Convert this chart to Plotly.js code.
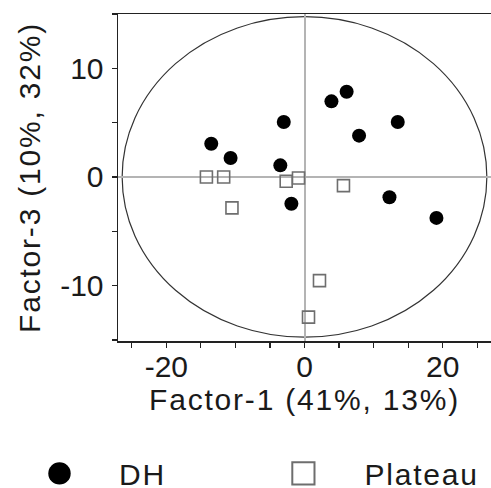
<!DOCTYPE html>
<html>
<head>
<meta charset="utf-8">
<script src="https://cdn.plot.ly/plotly-3.0.1.min.js"></script>
<style>
html,body{margin:0;padding:0;background:#fff;}
#chart{width:491px;height:488px;}
.g-xtitle text, .g-ytitle text, .infolayer text { letter-spacing: 1.8px !important; }
</style>
</head>
<body>
<div id="chart"></div>
<script>
// DH group (Factor-1, Factor-3)
var dhX = [-13.5, -10.7, -3.0, -3.5, 3.9, 6.1, 7.9, 13.5, -1.9, 12.3, 19.1];
var dhY = [3.06, 1.75, 5.06, 1.07, 6.96, 7.85, 3.8, 5.06, -2.46, -1.87, -3.77];
// Plateau group
var plX = [-14.2, -11.7, -10.5, -2.65, -0.87, 5.64, 2.17, 0.58];
var plY = [0.0, 0.0, -2.85, -0.4, -0.1, -0.8, -9.54, -12.9];
// confidence ellipse (semi-axes)
var ellipseRx = 26.4;
var ellipseRy = 14.75;
var tickVals = [-25, -20, -15, -10, -5, 0, 5, 10, 15, 20, 25];
var xTickText = ['', '-20', '', '', '', '0', '', '', '', '20', ''];
var yTickVals = [-15, -10, -5, 0, 5, 10, 15];
var yTickText = ['', '-10', '', '0', '', '10', ''];

var font = 'Liberation Sans, Arial, sans-serif';
var txt = '#1a1a1a';

var traces = [
  {x: dhX, y: dhY, name: 'DH', type: 'scatter', mode: 'markers', legend: 'legend',
   marker: {symbol: 'circle', size: 14, color: '#000000'}},
  {x: plX, y: plY, name: 'Plateau', type: 'scatter', mode: 'markers', legend: 'legend2',
   marker: {symbol: 'square-open', size: 12, color: '#6e6e6e', line: {width: 1.6, color: '#6e6e6e'}}}
];

var legFont = {family: font, size: 30, color: txt};
var layout = {
  width: 491, height: 488,
  margin: {l: 118, r: 0, t: 14, b: 147},
  paper_bgcolor: '#ffffff', plot_bgcolor: '#ffffff',
  font: {family: font, size: 30, color: txt},
  showlegend: true,
  legend: {orientation: 'h', xref: 'paper', yref: 'container', x: -0.323, xanchor: 'left', y: 0.0832, yanchor: 'top',
           font: legFont, bgcolor: 'rgba(0,0,0,0)', itemwidth: 109},
  legend2: {orientation: 'h', xref: 'paper', yref: 'container', x: 0.3335, xanchor: 'left', y: 0.0832, yanchor: 'top',
           font: legFont, bgcolor: 'rgba(0,0,0,0)', itemwidth: 112},
  xaxis: {range: [-27, 27], showgrid: false, zeroline: true, zerolinecolor: '#b4b4b4', zerolinewidth: 2,
          showline: true, linecolor: '#222', linewidth: 1.5, mirror: true,
          ticks: 'outside', ticklen: 5, tickwidth: 1.2, tickcolor: '#222', ticklabelstandoff: -7,
          tickmode: 'array', tickvals: tickVals, ticktext: xTickText,
          tickfont: {size: 30, family: font, color: txt},
          title: {text: 'Factor-1 (41%, 13%)', font: {size: 30, family: font, color: txt}, standoff: 0}},
  yaxis: {range: [-15.1, 15], showgrid: false, zeroline: true, zerolinecolor: '#b4b4b4', zerolinewidth: 2,
          showline: true, linecolor: '#222', linewidth: 1.5, mirror: false,
          ticks: 'outside', ticklen: 5, tickwidth: 1.2, tickcolor: '#222', ticklabelstandoff: 2,
          tickmode: 'array', tickvals: yTickVals, ticktext: yTickText,
          tickfont: {size: 30, family: font, color: txt},
          title: {text: 'Factor-3 (10%, 32%)', font: {size: 30, family: font, color: txt}, standoff: 10}},
  shapes: [
    {type: 'circle', xref: 'x', yref: 'y', x0: -ellipseRx, x1: ellipseRx, y0: -ellipseRy, y1: ellipseRy,
     line: {color: '#333', width: 1.2}, layer: 'below'}
  ]
};

function styleLegends(gd) {
  gd.querySelectorAll('.infolayer [clip-path]').forEach(function(e){ e.removeAttribute('clip-path'); });
  gd.querySelectorAll('text.legendtext').forEach(function(t){ t.style.letterSpacing = '1.8px'; t.setAttribute('letter-spacing', '1.8'); });
  gd.querySelectorAll('.infolayer rect.bg').forEach(function(r){
    if (r.getAttribute('data-w') === null) {
      var w = parseFloat(r.getAttribute('width')) || 0;
      r.setAttribute('data-w', w);
      r.setAttribute('width', w + 24);
    }
  });
  gd.querySelectorAll('.legendpoints path.scatterpts').forEach(function(p){
    var base = p.getAttribute('data-base');
    if (base === null) { base = p.getAttribute('transform') || ''; p.setAttribute('data-base', base); }
    var isSquare = (p.getAttribute('d') || '').indexOf('A') < 0;
    var s = isSquare ? 1.85 : 1.6;
    p.setAttribute('transform', base + ' scale(' + s + ')');
    if (isSquare) { p.style.vectorEffect = 'non-scaling-stroke'; p.style.strokeWidth = '2px'; }
  });
}

var gdEl = document.getElementById('chart');
Plotly.newPlot(gdEl, traces, layout, {displayModeBar: false, staticPlot: true}).then(function(gd){
  styleLegends(gd);
  gd.on('plotly_afterplot', function(){ styleLegends(gd); });
  setTimeout(function(){ styleLegends(gd); }, 0);
  setTimeout(function(){ styleLegends(gd); }, 100);
});
</script>
</body>
</html>
